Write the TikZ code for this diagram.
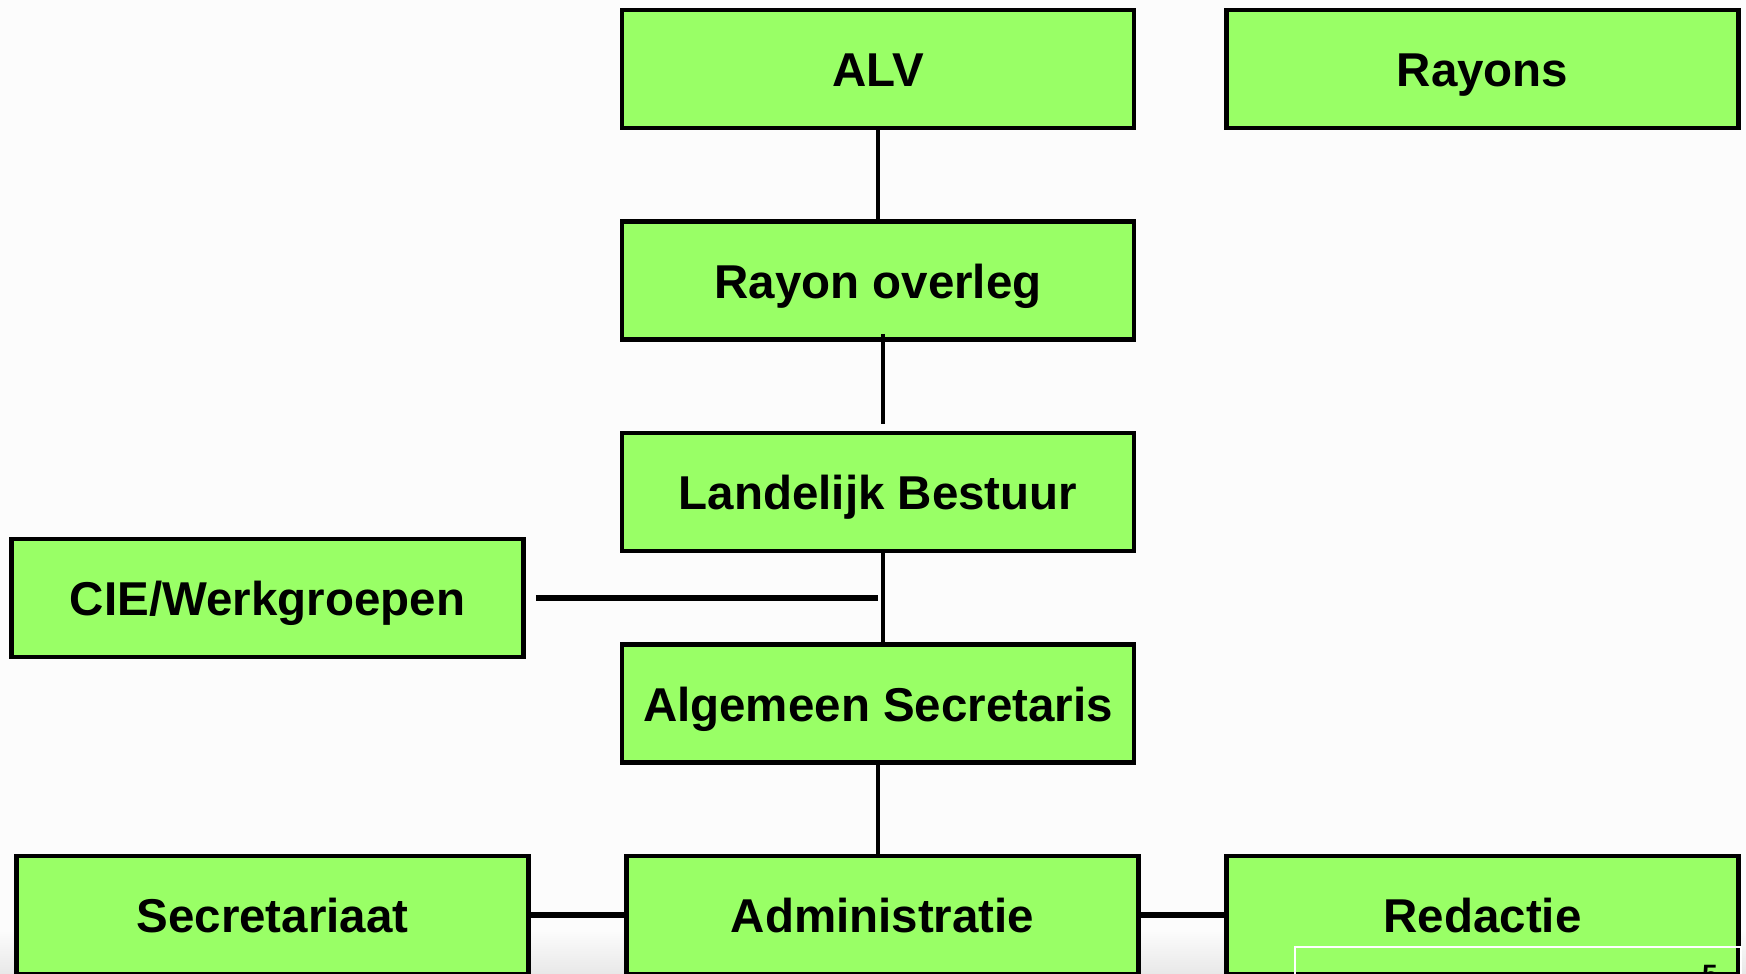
\documentclass[tikz,border=0pt]{standalone}
\usepackage{fontspec}
\setmainfont{Liberation Sans}
\usetikzlibrary{calc}
\definecolor{boxgreen}{RGB}{153,255,102}
\definecolor{bg}{RGB}{252,252,252}
\definecolor{bgbot}{RGB}{232,232,232}
\tikzset{
  orgbox/.style={draw=black, line width=4.5pt, fill=boxgreen, minimum width=512pt, minimum height=118pt, inner sep=0pt, font=\fontsize{47.5}{55}\selectfont\bfseries, text=black, text height=35pt, text depth=0pt, anchor=center},
  link/.style={draw=black, line width=4.5pt},
  cielink/.style={draw=black, line width=5.5pt},
  thicklink/.style={draw=black, line width=6.5pt}
}
\begin{document}
\begin{tikzpicture}[x=1pt,y=-1pt]
\clip (0,0) rectangle (1746,974);
\useasboundingbox (0,0) rectangle (1746,974);
\fill[bg] (0,0) rectangle (1746,974);
\shade[top color=bg, bottom color=bgbot] (0,930) rectangle (1746,974);
\node[orgbox] (alv) at (878,69) {ALV};
\node[orgbox] (rayons) at (1482.5,69) {Rayons};
\node[orgbox] (ro) at (878,280.5) {Rayon overleg};
\node[orgbox] (lb) at (878,492) {Landelijk Bestuur};
\node[orgbox] (cie) at (267.5,598) {CIE/Werkgroepen};
\node[orgbox] (as) at (878,703.5) {Algemeen Secretaris};
\node[orgbox] (sec) at (272.5,915) {Secretariaat};
\node[orgbox] (adm) at (882.5,915) {Administratie};
\node[orgbox] (red) at (1482.5,915) {Redactie};
\coordinate (roout) at ($(ro.south)+(5,-8)$);
\coordinate (lbin) at ($(lb.north)+(5,-7)$);
\coordinate (cieout) at ($(cie.east)+(10,0)$);
\coordinate (ciejoin) at (878,598);
\draw[link] (alv.south) -- (ro.north);
\draw[link] (roout) -- (lbin);
\draw[link] ($(lb.south)+(5,0)$) -- ($(as.north)+(5,0)$);
\draw[cielink] (cieout) -- (ciejoin);
\draw[link] (as.south) -- ($(adm.north)+(-4.5,0)$);
\draw[thicklink] (sec.east) -- (adm.west);
\draw[thicklink] (adm.east) -- (red.west);
\node[draw=white, line width=1.5pt, minimum width=446pt, minimum height=40pt, anchor=north west, inner sep=0pt] (slide) at (1294,946) {};
\node[anchor=north, font=\fontsize{28}{30}\selectfont\bfseries, text=black] (num) at (1710,962) {5};
\end{tikzpicture}
\end{document}
